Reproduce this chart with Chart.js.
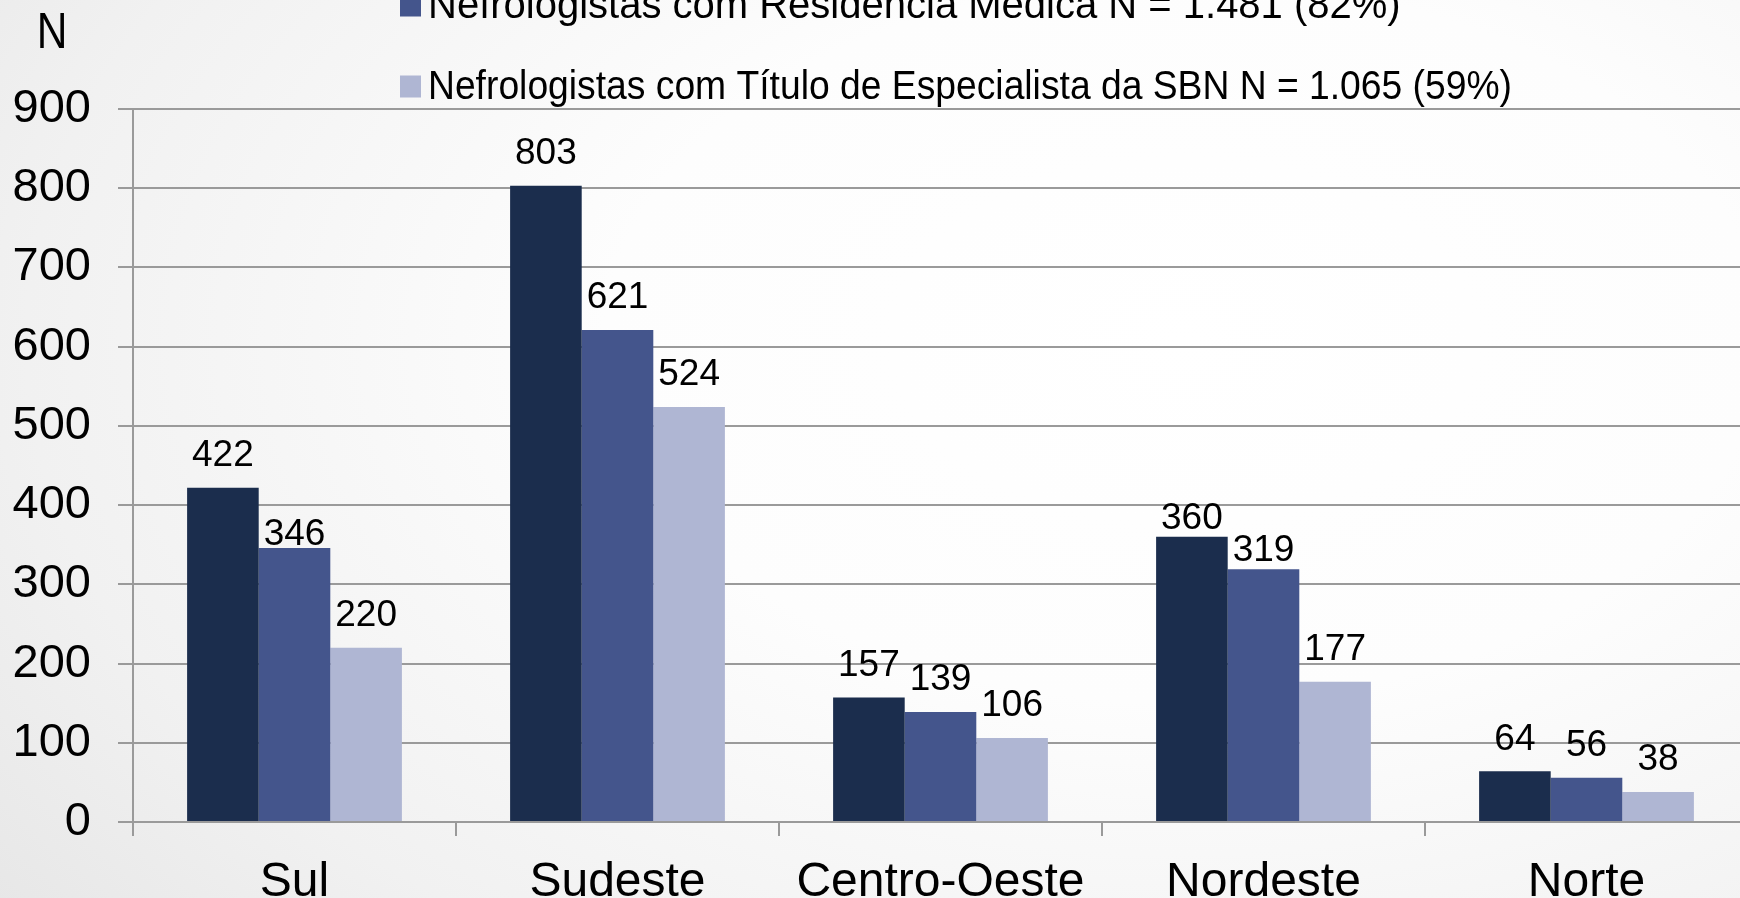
<!DOCTYPE html>
<html><head><meta charset="utf-8">
<script src="https://cdn.jsdelivr.net/npm/chart.js@4"></script>
<style>
html,body{margin:0;padding:0;width:1740px;height:898px;overflow:hidden;}
body{background: radial-gradient(ellipse 95% 115% at 68% 38%, #ffffff 0%, #fdfdfd 35%, #f1f1f1 70%, #e2e2e2 100%);}
#wrap{position:absolute;left:0;top:0;width:1750px;height:898px;}
</style></head><body>
<div id="wrap"><canvas id="c" width="1750" height="898"></canvas></div>
<script>
const categories = ['Sul', 'Sudeste', 'Centro-Oeste', 'Nordeste', 'Norte'];
const seriesLabels = [
  'Nefrologistas N = 1.806 (100%)',
  'Nefrologistas com Residência Médica N = 1.481 (82%)',
  'Nefrologistas com Título de Especialista da SBN N = 1.065 (59%)'
];
const totalValues = [422, 803, 157, 360, 64];
const residenciaValues = [346, 621, 139, 319, 56];
const tituloValues = [220, 524, 106, 177, 38];
const yTickValues = [0, 100, 200, 300, 400, 500, 600, 700, 800, 900];
const axisTitle = 'N';

const colors = ['#1b2d4d', '#44558c', '#afb6d3'];
const FONT = "'Liberation Sans', Arial, sans-serif";
const GRID = '#9a9a9a';

const labelLift = { '1-0': 19, '0-3': 14, '1-3': 14 };

function stretchedText(ctx, text, x, y, hScale) {
  ctx.save();
  ctx.translate(x, y);
  ctx.scale(hScale, 1);
  ctx.fillText(text, 0, 0);
  ctx.restore();
}

const customLegend = {
  id: 'customLegend',
  afterDraw(chart) {
    const ctx = chart.ctx;
    const ds = chart.data.datasets;
    ctx.save();
    ctx.font = '40px ' + FONT;
    ctx.textBaseline = 'middle';
    ctx.textAlign = 'left';
    const lastY = 86.5, step = 81;
    ds.forEach((d, i) => {
      const cy = lastY - (ds.length - 1 - i) * step;
      ctx.fillStyle = d.backgroundColor;
      ctx.fillRect(400, cy - 11, 21, 22);
      ctx.fillStyle = '#000';
      ctx.fillText(d.label, 428, cy + 1, 1084);
    });
    ctx.font = '50px ' + FONT;
    ctx.textAlign = 'center';
    stretchedText(ctx, axisTitle, 52, 34, 0.85);
    ctx.restore();
  }
};

const valueLabels = {
  id: 'valueLabels',
  afterDatasetsDraw(chart) {
    const ctx = chart.ctx;
    ctx.save();
    ctx.font = '37px ' + FONT;
    ctx.fillStyle = '#000';
    ctx.textAlign = 'center';
    ctx.textBaseline = 'middle';
    chart.data.datasets.forEach((d, i) => {
      const meta = chart.getDatasetMeta(i);
      meta.data.forEach((el, j) => {
        const lift = labelLift[i + '-' + j] || 0;
        ctx.fillText(String(d.data[j]), el.x, el.y - 32 + lift);
      });
    });
    ctx.restore();
  }
};

new Chart(document.getElementById('c'), {
  type: 'bar',
  data: {
    labels: categories,
    datasets: [
      { label: seriesLabels[0], data: totalValues, backgroundColor: colors[0] },
      { label: seriesLabels[1], data: residenciaValues, backgroundColor: colors[1] },
      { label: seriesLabels[2], data: tituloValues, backgroundColor: colors[2] }
    ]
  },
  options: {
    responsive: false,
    animation: false,
    layout: { padding: { top: 109, right: 2, left: 0, bottom: 0 } },
    datasets: { bar: { categoryPercentage: 0.665, barPercentage: 1.0, borderWidth: 0 } },
    plugins: { legend: { display: false }, tooltip: { enabled: false } },
    scales: {
      x: {
        grid: { drawOnChartArea: false, drawTicks: true, tickLength: 14, color: GRID, lineWidth: 2, offset: true },
        border: { color: GRID, width: 2 },
        ticks: { font: { family: FONT, size: 48 }, color: '#000', padding: 18, maxRotation: 0, autoSkip: false },
        afterFit: s => { s.height = 76; }
      },
      y: {
        min: 0, max: 900,
        afterBuildTicks: s => { s.ticks = yTickValues.map(v => ({ value: v })); },
        grid: { color: GRID, lineWidth: 2, tickLength: 15 },
        border: { color: GRID, width: 2 },
        ticks: { font: { family: FONT, size: 47 }, color: '#000', padding: 27 },
        afterFit: s => { s.width = 133; }
      }
    }
  },
  plugins: [customLegend, valueLabels]
});
</script>
</body></html>
